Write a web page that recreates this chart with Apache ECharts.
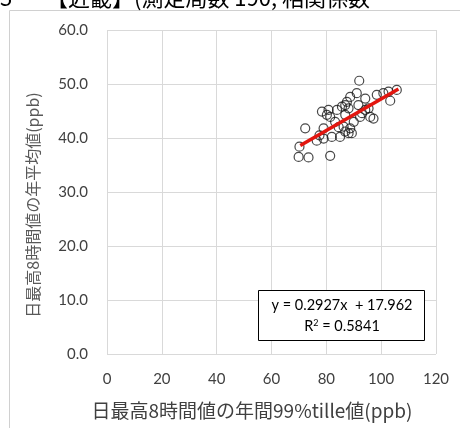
<!DOCTYPE html>
<html>
<head>
<meta charset="utf-8">
<script src="https://cdn.jsdelivr.net/npm/echarts@6/dist/echarts.min.js"></script>
<style>
  html, body { margin: 0; padding: 0; background: #fff; }
  #chart { width: 460px; height: 428px; }
</style>
</head>
<body>
<div id="chart"></div>
<script>
// 各測定局: 日最高8時間値の年間99%tile値 (x) と 年平均値 (y), ppb
const xValues = [69.9, 73.5, 81.4, 70.2, 72.3, 76.5, 79.0, 79.0, 82.0, 85.0,
                 86.9, 81.4, 78.4, 80.8, 83.9, 85.7, 86.9, 80.2, 83.2, 86.3,
                 89.3, 88.1, 88.7, 92.0, 88.7, 91.1, 94.2, 98.4, 100.8, 102.7,
                 105.7, 103.3, 87.5, 88.1, 91.7, 95.4, 92.3, 86.9, 96.0, 97.2,
                 93.0, 94.2, 84.5, 90.0, 77.5];
const yValues = [36.5, 36.4, 36.7, 38.4, 41.8, 39.5, 41.8, 39.9, 40.2, 40.2,
                 41.2, 43.9, 44.9, 45.2, 45.2, 45.8, 46.1, 44.3, 43.0, 42.1,
                 40.9, 40.9, 41.8, 50.6, 47.6, 48.3, 47.3, 48.0, 48.3, 48.6,
                 48.9, 46.9, 46.7, 45.5, 46.1, 45.5, 43.9, 44.3, 43.9, 43.6,
                 44.6, 45.2, 42.0, 43.0, 40.5];

// 近似直線 y = a x + b
const slope = 0.2927;
const intercept = 17.962;
const rSquared = 0.5841;
const trendRange = [70.5, 106.3];

const xTicks = [0, 20, 40, 60, 80, 100, 120];
const yTicks = [0, 10, 20, 30, 40, 50, 60];

const xTitle = '日最高8時間値の年間99%tille値(ppb)';
const yTitle = '日最高8時間値の年平均値(ppb)';
const headText = '【近畿】(測定局数 190, 相関係数';

const points = xValues.map((x, i) => [x, yValues[i]]);
const trend = trendRange.map(x => [x, slope * x + intercept]);

const chart = echarts.init(document.getElementById('chart'), null, { renderer: 'canvas' });
const tickFont = '"Lato", "Open Sans", sans-serif';
const cjkFont = '"Noto Sans CJK JP", sans-serif';

chart.setOption({
  animation: false,
  grid: { left: 107, right: 24, top: 30, bottom: 74, containLabel: false },
  xAxis: {
    type: 'value', min: xTicks[0], max: xTicks[xTicks.length - 1], interval: 20,
    axisLine: { show: false }, axisTick: { show: false },
    splitLine: { show: true, lineStyle: { color: '#d9d9d9', width: 1 } },
    axisLabel: { color: '#404040', fontSize: 15, fontFamily: tickFont, margin: 18 }
  },
  yAxis: {
    type: 'value', min: yTicks[0], max: yTicks[yTicks.length - 1], interval: 10,
    axisLine: { show: false }, axisTick: { show: false },
    splitLine: { show: true, lineStyle: { color: '#d9d9d9', width: 1 } },
    axisLabel: { color: '#404040', fontSize: 15, fontFamily: tickFont, margin: 19,
                 formatter: v => v.toFixed(1) }
  },
  series: [
    {
      type: 'scatter', data: points, symbol: 'circle', symbolSize: 9,
      itemStyle: { color: 'rgba(255,255,255,0)', borderColor: '#1a1a1a', borderWidth: 1.2 },
      z: 2
    },
    {
      type: 'line', data: trend, symbol: 'none',
      lineStyle: { color: '#e3160f', width: 3.5 },
      z: 3
    }
  ],
  graphic: [
    { type: 'rect', shape: { x: 9.5, y: 10.5, width: 470, height: 440 },
      style: { fill: 'none', stroke: '#d0d0d0', lineWidth: 1 }, z: -1 },
    { type: 'text', x: 0, y: 9, style: { text: '5', font: '22px ' + cjkFont, fill: '#000', textVerticalAlign: 'bottom' } },
    { type: 'text', x: 46, y: 9, style: { text: headText, font: '22px ' + cjkFont, fill: '#000', textVerticalAlign: 'bottom' } },
    // 軸タイトル
    { type: 'text', x: 252, y: 411,
      style: { text: xTitle, font: '19px ' + cjkFont, fill: '#404040', textAlign: 'center', textVerticalAlign: 'middle' } },
    { type: 'text', x: 33, y: 205, rotation: Math.PI / 2,
      style: { text: yTitle, font: '16px ' + cjkFont, fill: '#595959', textAlign: 'center', textVerticalAlign: 'middle' } },
    // 回帰式ラベル
    { type: 'rect', shape: { x: 258.5, y: 290.5, width: 166, height: 50 },
      style: { fill: '#fff', stroke: '#000', lineWidth: 1 }, z: 10 },
    { type: 'text', x: 342, y: 305, z: 11,
      style: { text: 'y = ' + slope + 'x  + ' + intercept, font: '14.5px ' + tickFont, fill: '#000',
               textAlign: 'center', textVerticalAlign: 'middle' } },
    { type: 'text', x: 342, y: 326, z: 11,
      style: { rich: { r: { fontSize: 14.5, fontFamily: tickFont }, s: { fontSize: 9, fontFamily: tickFont, verticalAlign: 'top', padding: [0, 0, 6, 0] } },
               text: '{r|R}{s|2}{r| = ' + rSquared + '}', fill: '#000',
               textAlign: 'center', textVerticalAlign: 'middle' } }
  ]
});
</script>
</body>
</html>
